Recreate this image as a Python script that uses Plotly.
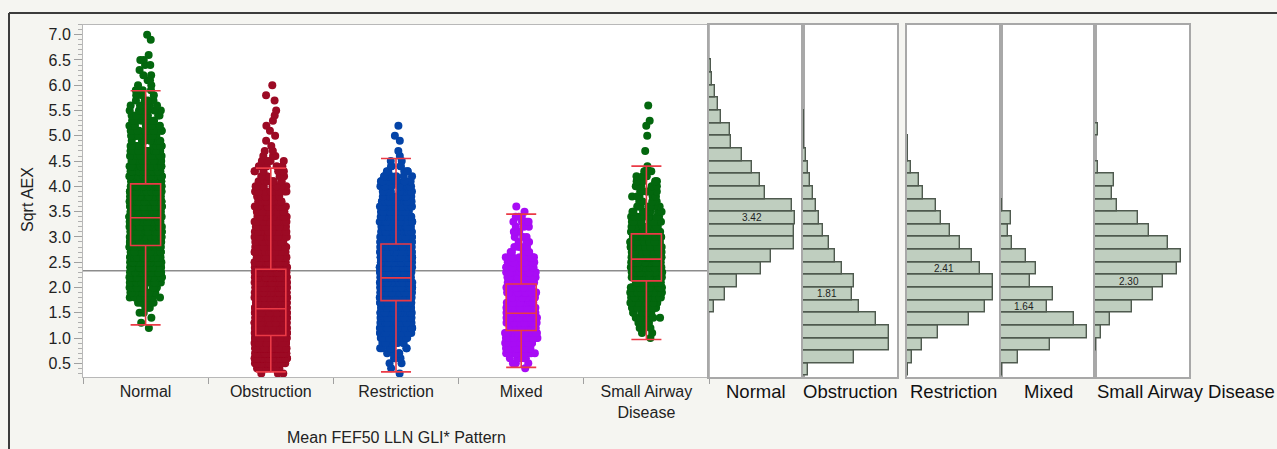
import numpy as np
import plotly.graph_objects as go

# ---------------- data ----------------
categories = ["Normal", "Obstruction", "Restriction", "Mixed", "Small Airway Disease"]
category_ticktext = ["Normal", "Obstruction", "Restriction", "Mixed", "Small Airway<br>Disease"]

# raw point values, summarised as counts per 0.1 level of Sqrt AEX
levels = [0.3, 0.4, 0.5, 0.6, 0.7, 0.8, 0.9, 1.0, 1.1, 1.2,
          1.3, 1.4, 1.5, 1.6, 1.7, 1.8, 1.9, 2.0, 2.1, 2.2,
          2.3, 2.4, 2.5, 2.6, 2.7, 2.8, 2.9, 3.0, 3.1, 3.2,
          3.3, 3.4, 3.5, 3.6, 3.7, 3.8, 3.9, 4.0, 4.1, 4.2,
          4.3, 4.4, 4.5, 4.6, 4.7, 4.8, 4.9, 5.0, 5.1, 5.2,
          5.3, 5.4, 5.5, 5.6, 5.7, 5.8, 5.9, 6.0, 6.1, 6.2,
          6.3, 6.4, 6.5, 6.6, 6.7, 6.8, 6.9, 7.0]

normal_counts = [0, 0, 0, 0, 0, 0, 0, 0, 0, 1,
                 1, 1, 2, 3, 5, 9, 12, 16, 20, 26,
                 34, 38, 41, 44, 50, 58, 60, 60, 60, 60,
                 60, 60, 58, 58, 50, 40, 38, 37, 36, 33,
                 30, 28, 24, 22, 19, 15, 15, 15, 14, 11,
                 8, 8, 7, 6, 5, 4, 3, 2, 2, 2,
                 1, 2, 2, 1, 0, 0, 1, 1]
obstruction_counts = [3, 8, 30, 59, 70, 95, 100, 100, 100, 95,
                      85, 85, 75, 65, 62, 57, 57, 58, 59, 54,
                      46, 46, 42, 38, 35, 31, 31, 27, 24, 22,
                      19, 19, 17, 15, 14, 12, 12, 10, 8, 7,
                      6, 6, 4, 3, 2, 1, 1, 1, 1, 1,
                      1, 1, 1, 0, 1, 1, 0, 1, 0, 0,
                      0, 0, 0, 0, 0, 0, 0, 0]
restriction_counts = [1, 1, 2, 3, 4, 8, 10, 14, 22, 30,
                      40, 45, 50, 55, 57, 60, 60, 60, 60, 58,
                      52, 50, 47, 45, 42, 37, 36, 32, 30, 27,
                      24, 23, 21, 20, 16, 14, 13, 11, 10, 8,
                      5, 4, 2, 1, 1, 0, 1, 1, 0, 1,
                      0, 0, 0, 0, 0, 0, 0, 0, 0, 0,
                      0, 0, 0, 0, 0, 0, 0, 0]
mixed_counts = [0, 1, 3, 6, 9, 16, 18, 25, 30, 30,
                27, 25, 18, 15, 16, 18, 18, 12, 10, 10,
                12, 12, 9, 9, 6, 4, 3, 3, 3, 3,
                4, 3, 1, 1, 0, 0, 0, 0, 0, 0,
                0, 0, 0, 0, 0, 0, 0, 0, 0, 0,
                0, 0, 0, 0, 0, 0, 0, 0, 0, 0,
                0, 0, 0, 0, 0, 0, 0, 0]
sad_counts = [0, 0, 0, 0, 0, 0, 0, 1, 2, 3,
              4, 6, 9, 13, 15, 19, 21, 22, 24, 25,
              28, 28, 30, 30, 28, 25, 24, 19, 18, 16,
              15, 13, 9, 8, 6, 6, 6, 6, 6, 4,
              3, 1, 0, 0, 1, 0, 0, 1, 0, 1,
              1, 0, 0, 1, 0, 0, 0, 0, 0, 0,
              0, 0, 0, 0, 0, 0, 0, 0]

# box-plot summary per category
box_q1 = [2.83, 1.05, 1.74, 1.15, 2.13]
box_median = [3.38, 1.58, 2.19, 1.49, 2.56]
box_q3 = [4.05, 2.36, 2.86, 2.07, 3.06]
box_lower = [1.26, 0.33, 0.33, 0.42, 0.97]
box_upper = [5.89, 4.36, 4.55, 3.45, 4.40]
grand_mean = 2.33

# histograms (relative bar lengths), bins of 0.25 starting at bin_lo
bin_lo = [0.25, 0.5, 0.75, 1.0, 1.25, 1.5, 1.75, 2.0, 2.25, 2.5,
          2.75, 3.0, 3.25, 3.5, 3.75, 4.0, 4.25, 4.5, 4.75, 5.0,
          5.25, 5.5, 5.75, 6.0, 6.25, 6.5, 6.75]
bin_width = 0.25
hist_normal = [None, None, None, None, None, 5, 16, 28, 52, 62,
               85, 85, 86, 83, 56, 51, 43, 33, 22, 21,
               12, 9, 6, 3, 2, None, None]
hist_obstruction = [5, 50, 85, 85, 72, 55, 48, 50, 39, 32,
                    26, 20, 16, 13, 10, 7, 5, 2.7, 1, 1,
                    1, None, None, None, None, None, None]
hist_restriction = [1, 5, 15, 31, 62, 78, 86, 86, 73, 65,
                    53, 43, 34, 29, 16, 12, 4, 1, 1, None,
                    None, None, None, None, None, None, None]
hist_mixed = [1, 17, 48, 85, 72, 45, 51, 29, 35, 25,
              11, 7, 10, 1, None, None, None, None, None, None,
              None, None, None, None, None, None, None]
hist_sad = [None, None, 1, 6, 15, 37, 57, 67, 81, 85,
            72, 53, 42, 22, 17, 19, 3, None, None, 3,
            None, None, None, None, None, None, None]
group_means = [3.42, 1.81, 2.41, 1.64, 2.30]
mean_label_bin = [3.25, 1.75, 2.25, 1.5, 2.0]

x_title = "Mean FEF50 LLN GLI* Pattern"
y_title = "Sqrt AEX"

# ---------------- styles ----------------
W, H = 1277, 449
FONT = "Liberation Sans, Arial, Helvetica, sans-serif"
point_colors = ["#03670e", "#9c0a24", "#0444a8", "#a80cf5", "#03670e"]
box_line_color = "#ea3a46"
hist_fill = "#bfcebf"
hist_edge = "#4f5a4f"
bg = "#f5f5f1"

def px_x(p):
    return p / W

def px_y(p):
    return (H - p) / H

main_dom = [px_x(83), px_x(709)]
hist_doms = [[px_x(709), px_x(803)], [px_x(803), px_x(897)],
             [px_x(907), px_x(1001)], [px_x(1001), px_x(1095)],
             [px_x(1095), px_x(1189)]]
y_dom = [px_y(377), px_y(24.5)]
y_range = [0.229, 7.202]

fig = go.Figure()

# jittered points
all_counts = [normal_counts, obstruction_counts, restriction_counts, mixed_counts, sad_counts]
for cat, counts, col in zip(categories, all_counts, point_colors):
    yv = np.repeat(levels, counts)
    fig.add_trace(go.Box(
        x=[cat] * len(yv), y=yv, boxpoints="all", jitter=1.0, pointpos=0,
        width=0.26, marker=dict(color=col, size=8, line=dict(width=0)),
        line=dict(color="rgba(0,0,0,0)", width=0), fillcolor="rgba(0,0,0,0)",
        hoverinfo="skip", showlegend=False, xaxis="x", yaxis="y"))

# summary boxes
fig.add_trace(go.Box(
    x=categories, q1=box_q1, median=box_median, q3=box_q3,
    lowerfence=box_lower, upperfence=box_upper, width=0.24, whiskerwidth=1,
    line=dict(color=box_line_color, width=1.6), fillcolor="rgba(0,0,0,0)",
    boxpoints=False, showlegend=False, xaxis="x", yaxis="y"))

# histograms
hists = [hist_normal, hist_obstruction, hist_restriction, hist_mixed, hist_sad]
bin_mid = [b + bin_width / 2 for b in bin_lo]
annotations = []
for k, (h, m, mb) in enumerate(zip(hists, group_means, mean_label_bin)):
    xa = "x%d" % (k + 2)
    ya = "y%d" % (k + 2)
    fig.add_trace(go.Bar(
        y=bin_mid, x=h, orientation="h", width=bin_width,
        marker=dict(color=hist_fill, line=dict(color=hist_edge, width=1.4)),
        showlegend=False, hoverinfo="skip", xaxis=xa, yaxis=ya))
    bar_val = h[bin_lo.index(mb)]
    annotations.append(dict(text="%.2f" % m, x=bar_val / 2, y=mb + bin_width / 2,
                            xref=xa, yref=ya, showarrow=False,
                            font=dict(size=10, color="#222", family=FONT)))

layout = dict(
    width=W, height=H, margin=dict(l=0, r=0, t=0, b=0),
    paper_bgcolor=bg, plot_bgcolor="white", boxmode="overlay", bargap=0,
    font=dict(family=FONT, size=16, color="#222"),
    xaxis=dict(domain=main_dom, anchor="y", type="category",
               categoryorder="array", categoryarray=categories,
               tickvals=categories, ticktext=category_ticktext,
               range=[-0.5, 4.5], tickson="boundaries", ticks="outside",
               ticklen=6, tickcolor="#a0a0a0", showline=True, mirror=True,
               linecolor="#b8b8b8", linewidth=1, showgrid=False, zeroline=False,
               tickfont=dict(size=16, color="#222")),
    yaxis=dict(domain=y_dom, anchor="x", range=y_range, tickmode="linear",
               tick0=0.5, dtick=0.5, tickformat=".1f", ticks="outside",
               ticklen=8, tickcolor="#a0a0a0", showline=True, mirror=True,
               linecolor="#b8b8b8", linewidth=1, showgrid=False, zeroline=False,
               tickfont=dict(size=16, color="#222"),
               minor=dict(dtick=0.1, tick0=0, ticks="outside", ticklen=4,
                          tickcolor="#b0b0b0")),
)
for k, (h, dom) in enumerate(zip(hists, hist_doms)):
    hmax = max(v for v in h if v is not None)
    layout["xaxis%d" % (k + 2)] = dict(
        domain=dom, anchor="y%d" % (k + 2), range=[0, hmax * 1.093],
        showticklabels=False, ticks="", showgrid=False, zeroline=False,
        showline=True, mirror=True, linecolor="#a8a8a8", linewidth=1.5)
    layout["yaxis%d" % (k + 2)] = dict(
        domain=y_dom, anchor="x%d" % (k + 2), range=y_range,
        showticklabels=False, ticks="", showgrid=False, zeroline=False,
        showline=True, mirror=True, linecolor="#a8a8a8", linewidth=1.5)

# histogram panel titles
for k, (cat, dom) in enumerate(zip(categories, hist_doms)):
    if k == 4:
        annotations.append(dict(text=cat, x=dom[0], xanchor="left", y=px_y(391),
                                xref="paper", yref="paper", showarrow=False,
                                yanchor="middle", font=dict(size=18.5, color="#111", family=FONT)))
    else:
        annotations.append(dict(text=cat, x=(dom[0] + dom[1]) / 2, xanchor="center",
                                y=px_y(391), xref="paper", yref="paper",
                                showarrow=False, yanchor="middle",
                                font=dict(size=18.5, color="#111", family=FONT)))

annotations.append(dict(text=x_title, x=(main_dom[0] + main_dom[1]) / 2, y=px_y(437),
                        xref="paper", yref="paper", showarrow=False,
                        xanchor="center", yanchor="middle",
                        font=dict(size=16, color="#222", family=FONT)))
annotations.append(dict(text=y_title, x=px_x(27), y=px_y(200), textangle=-90,
                        xref="paper", yref="paper", showarrow=False,
                        xanchor="center", yanchor="middle",
                        font=dict(size=16, color="#222", family=FONT)))
layout["annotations"] = annotations

layout["shapes"] = [
    dict(type="line", xref="x domain", yref="y", x0=0, x1=1, y0=grand_mean, y1=grand_mean,
         line=dict(color="#8c8c8c", width=1.5), layer="below"),
    dict(type="line", xref="paper", yref="paper", x0=px_x(9), x1=1, y0=px_y(13), y1=px_y(13),
         line=dict(color="#3c3c3c", width=2)),
    dict(type="line", xref="paper", yref="paper", x0=px_x(9), x1=px_x(9), y0=0, y1=px_y(13),
         line=dict(color="#3c3c3c", width=2)),
]

fig.update_layout(**layout)
fig.write_html("out.html")
